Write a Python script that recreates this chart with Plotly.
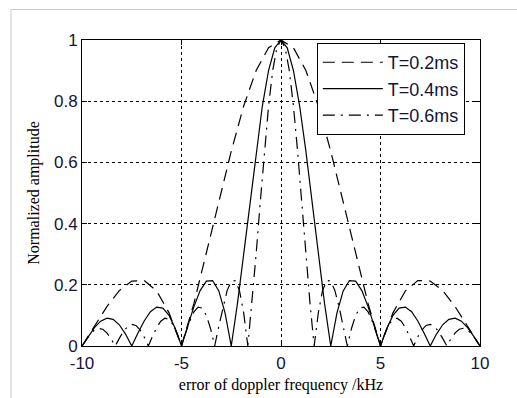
import plotly.graph_objects as go

# frequency error (kHz) and normalized amplitude
x_02 = [-10, -9.375, -8.75, -8.125, -7.5, -6.875, -6.25, -5.625, -5, -4.375, -3.75, -3.125,
        -2.5, -1.875, -1.25, -0.625, 0, 0.625, 1.25, 1.875, 2.5, 3.125, 3.75, 4.375,
        5, 5.625, 6.25, 6.875, 7.5, 8.125, 8.75, 9.375, 10]
y_02 = [0, 0.0650, 0.1286, 0.1810, 0.2122, 0.2139, 0.1801, 0.1083, 0, 0.1392, 0.3001, 0.4705,
        0.6366, 0.7842, 0.9003, 0.9745, 1, 0.9745, 0.9003, 0.7842, 0.6366, 0.4705, 0.3001, 0.1392,
        0, 0.1083, 0.1801, 0.2139, 0.2122, 0.1810, 0.1286, 0.0650, 0]

x_04 = [-10, -9.6875, -9.375, -9.0625, -8.75, -8.4375, -8.125, -7.8125, -7.5, -7.1875, -6.875,
        -6.5625, -6.25, -5.9375, -5.625, -5.3125, -5, -4.6875, -4.375, -4.0625, -3.75, -3.4375,
        -3.125, -2.8125, -2.5, -2.1875, -1.875, -1.5625, -1.25, -0.9375, -0.625, -0.3125, 0,
        0.3125, 0.625, 0.9375, 1.25, 1.5625, 1.875, 2.1875, 2.5, 2.8125, 3.125, 3.4375, 3.75,
        4.0625, 4.375, 4.6875, 5, 5.3125, 5.625, 5.9375, 6.25, 6.5625, 6.875, 7.1875, 7.5,
        7.8125, 8.125, 8.4375, 8.75, 9.0625, 9.375, 9.6875, 10]
y_04 = [0, 0.0314, 0.0600, 0.0811, 0.0909, 0.0871, 0.0693, 0.0390, 0, 0.0424, 0.0818,
        0.1120, 0.1273, 0.1238, 0.1000, 0.0573, 0, 0.0650, 0.1286, 0.1810, 0.2122, 0.2139,
        0.1801, 0.1083, 0, 0.1392, 0.3001, 0.4705, 0.6366, 0.7842, 0.9003, 0.9745, 1,
        0.9745, 0.9003, 0.7842, 0.6366, 0.4705, 0.3001, 0.1392, 0, 0.1083, 0.1801, 0.2139, 0.2122,
        0.1810, 0.1286, 0.0650, 0, 0.0573, 0.1000, 0.1238, 0.1273, 0.1120, 0.0818, 0.0424, 0,
        0.0390, 0.0693, 0.0871, 0.0909, 0.0811, 0.0600, 0.0314, 0]

x_06 = [-10, -9.7917, -9.5833, -9.375, -9.1667, -8.9583, -8.75, -8.5417, -8.3333, -8.125,
        -7.9167, -7.7083, -7.5, -7.2917, -7.0833, -6.875, -6.6667, -6.4583, -6.25, -6.0417,
        -5.8333, -5.625, -5.4167, -5.2083, -5, -4.7917, -4.5833, -4.375, -4.1667, -3.9583,
        -3.75, -3.5417, -3.3333, -3.125, -2.9167, -2.7083, -2.5, -2.2917, -2.0833, -1.875,
        -1.6667, -1.4583, -1.25, -1.0417, -0.8333, -0.625, -0.4167, -0.2083, 0,
        0.2083, 0.4167, 0.625, 0.8333, 1.0417, 1.25, 1.4583, 1.6667, 1.875, 2.0833,
        2.2917, 2.5, 2.7083, 2.9167, 3.125, 3.3333, 3.5417, 3.75, 3.9583, 4.1667,
        4.375, 4.5833, 4.7917, 5, 5.2083, 5.4167, 5.625, 5.8333, 6.0417, 6.25,
        6.4583, 6.6667, 6.875, 7.0833, 7.2917, 7.5, 7.7083, 7.9167, 8.125, 8.3333,
        8.5417, 8.75, 8.9583, 9.1667, 9.375, 9.5833, 9.7917, 10]
y_06 = [0, 0.0207, 0.0391, 0.0523, 0.0579, 0.0547, 0.0429, 0.0238, 0, 0.0250,
        0.0474, 0.0636, 0.0707, 0.0672, 0.0530, 0.0295, 0, 0.0314, 0.0600, 0.0811,
        0.0909, 0.0871, 0.0693, 0.0390, 0, 0.0424, 0.0818, 0.1120, 0.1273, 0.1238,
        0.1000, 0.0573, 0, 0.0650, 0.1286, 0.1810, 0.2122, 0.2139, 0.1801, 0.1083,
        0, 0.1392, 0.3001, 0.4705, 0.6366, 0.7842, 0.9003, 0.9745, 1,
        0.9745, 0.9003, 0.7842, 0.6366, 0.4705, 0.3001, 0.1392, 0, 0.1083, 0.1801,
        0.2139, 0.2122, 0.1810, 0.1286, 0.0650, 0, 0.0573, 0.1000, 0.1238, 0.1273,
        0.1120, 0.0818, 0.0424, 0, 0.0390, 0.0693, 0.0871, 0.0909, 0.0811, 0.0600,
        0.0314, 0, 0.0295, 0.0530, 0.0672, 0.0707, 0.0636, 0.0474, 0.0250, 0,
        0.0238, 0.0429, 0.0547, 0.0579, 0.0523, 0.0391, 0.0207, 0]

series_names = ["T=0.2ms", "T=0.4ms", "T=0.6ms"]
x_ticks = [-10, -5, 0, 5, 10]
y_ticks = [0, 0.2, 0.4, 0.6, 0.8, 1]
y_tick_labels = ["0", "0.2", "0.4", "0.6", "0.8", "1"]

fig = go.Figure()
styles = ["12px,7px", "solid", "12px,6px,2px,6px"]
for xs, ys, name, dash in zip([x_02, x_04, x_06], [y_02, y_04, y_06], series_names, styles):
    fig.add_trace(go.Scatter(x=xs, y=ys, mode="lines", name=name,
                             line=dict(color="black", width=1.2, dash=dash)))

tick_font = dict(family="Liberation Sans, Arial", size=17, color="#141438")
title_font = dict(family="Liberation Serif, Times New Roman", size=16, color="black")

fig.update_layout(
    width=517, height=398,
    margin=dict(l=82, r=37, t=40, b=52),
    paper_bgcolor="white", plot_bgcolor="white",
    showlegend=True,
    legend=dict(x=0.59, y=0.99, xanchor="left", yanchor="top",
                bordercolor="black", borderwidth=1, bgcolor="white",
                font=dict(family="Liberation Sans, Arial", size=18, color="#141438"),
                tracegroupgap=0, itemwidth=60),
    shapes=[dict(type="line", xref="paper", yref="paper", x0=-0.1784, y0=1.0997,
                 x1=1.2, y1=1.0997, line=dict(color="#c8c8c8", width=1)),
            dict(type="line", xref="paper", yref="paper", x0=-0.1784, y0=1.0997,
                 x1=-0.1784, y1=-0.3, line=dict(color="#c8c8c8", width=1))],
)
fig.update_xaxes(range=[-10, 10], tickvals=x_ticks, ticktext=[str(v) for v in x_ticks],
                 showline=True, linecolor="black", linewidth=1, mirror="ticks",
                 ticks="inside", ticklen=5, tickcolor="black", ticklabelstandoff=2,
                 showgrid=True, gridcolor="black", gridwidth=1, griddash="dot",
                 zeroline=False, tickfont=tick_font, automargin=False,
                 title=dict(text="error of doppler frequency /kHz", font=title_font, standoff=6))
fig.update_yaxes(range=[0, 1], tickvals=y_ticks, ticktext=y_tick_labels,
                 showline=True, linecolor="black", linewidth=1, mirror="ticks",
                 ticks="inside", ticklen=5, tickcolor="black",
                 showgrid=True, gridcolor="black", gridwidth=1, griddash="dot",
                 zeroline=False, tickfont=tick_font, automargin=False,
                 title=dict(text="Normalized amplitude", font=title_font, standoff=10))

fig.write_html("out.html")
